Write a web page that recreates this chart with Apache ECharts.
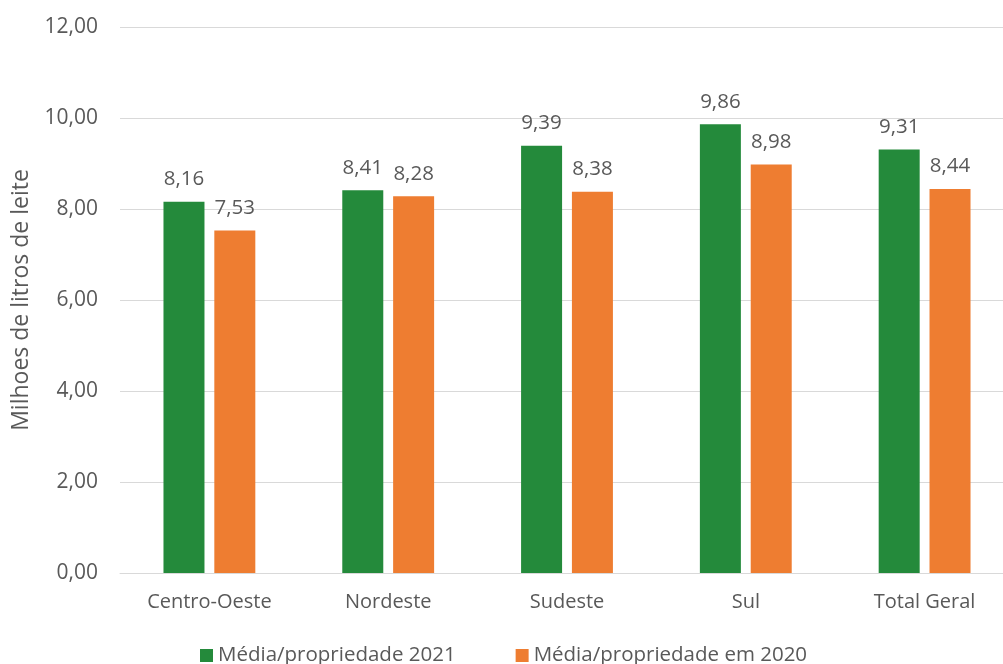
<!DOCTYPE html>
<html>
<head>
<meta charset="utf-8">
<script src="https://cdn.jsdelivr.net/npm/echarts@6/dist/echarts.min.js"></script>
<style>
  html, body { margin: 0; padding: 0; background: #fff; overflow: hidden; }
  /* the plot runs a little past the right edge of the window */
  #chart { width: 1020px; height: 664px; }
</style>
</head>
<body>
<div id="chart"></div>
<script>
// Produção média por propriedade (milhões de litros de leite), por região
const regioes = ['Centro-Oeste', 'Nordeste', 'Sudeste', 'Sul', 'Total Geral'];
const media2021 = [8.16, 8.41, 9.39, 9.86, 9.31];
const media2020 = [7.53, 8.28, 8.38, 8.98, 8.44];
const nomesSeries = ['Média/propriedade 2021', 'Média/propriedade em 2020'];
const eixoY = { min: 0, max: 12, interval: 2 };

const FONT = '"Open Sans", Lato, sans-serif';
const TEXT = '#595959';
const fmt = v => v.toFixed(2).replace('.', ',');

const chart = echarts.init(document.getElementById('chart'), null, { renderer: 'canvas' });

const labelCfg = {
  show: true,
  position: 'top',
  distance: 12,
  color: TEXT,
  fontFamily: FONT,
  fontSize: 20.5,
  formatter: p => fmt(p.value)
};

chart.setOption({
  animation: false,
  backgroundColor: '#ffffff',
  grid: {
    left: 120, top: 27, width: 894, height: 546,
    containLabel: false,
    outerBoundsMode: 'none'
  },
  legend: {
    top: 640,
    left: 195,
    itemWidth: 13,
    itemHeight: 13,
    itemGap: 60,
    icon: 'rect',
    textStyle: { color: TEXT, fontFamily: FONT, fontSize: 20.5 },
    data: nomesSeries
  },
  xAxis: {
    type: 'category',
    data: regioes,
    axisLine: { show: true, lineStyle: { color: '#d9d9d9', width: 1 } },
    axisTick: { show: false },
    axisLabel: { color: TEXT, fontFamily: FONT, fontSize: 20, margin: 19 }
  },
  yAxis: {
    type: 'value',
    min: eixoY.min,
    max: eixoY.max,
    interval: eixoY.interval,
    name: 'Milhoes de litros de leite',
    nameLocation: 'middle',
    nameGap: 87,
    nameTextStyle: { color: TEXT, fontFamily: FONT, fontSize: 23 },
    axisLine: { show: false },
    axisTick: { show: false },
    axisLabel: { color: TEXT, fontFamily: FONT, fontSize: 21, margin: 22, formatter: v => fmt(v) },
    splitLine: { lineStyle: { color: '#d9d9d9', width: 1 } }
  },
  series: [
    {
      name: nomesSeries[0],
      type: 'bar',
      data: media2021,
      barWidth: 41,
      barGap: '24%',
      itemStyle: { color: '#248a3b' },
      label: labelCfg
    },
    {
      name: nomesSeries[1],
      type: 'bar',
      data: media2020,
      barWidth: 41,
      barGap: '24%',
      itemStyle: { color: '#ee7d31' },
      label: labelCfg
    }
  ]
});
</script>
</body>
</html>
